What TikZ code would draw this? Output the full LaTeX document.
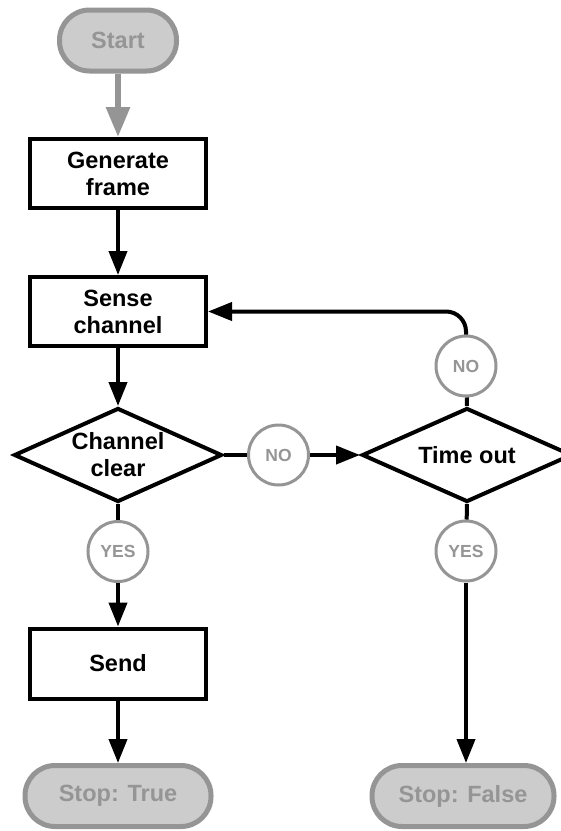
\documentclass[tikz,border=0pt]{standalone}
\usepackage{fontspec}
\setmainfont{Liberation Sans}
\usetikzlibrary{arrows.meta,shapes.geometric}
\definecolor{tgray}{HTML}{959595}
\definecolor{tfill}{HTML}{CCCCCC}
\begin{document}
\begin{tikzpicture}[x=1pt,y=-1pt,
  txt/.style={font=\bfseries\fontsize{23.5}{27}\selectfont, align=center},
  term/.style={txt, rectangle, rounded corners=30pt, draw=tgray, fill=tfill, text=tgray, line width=5pt, minimum height=61pt, inner sep=0pt},
  proc/.style={txt, rectangle, draw, line width=4pt, minimum width=176pt, minimum height=69pt, inner sep=0pt},
  dec/.style={diamond, draw, line width=4pt, minimum width=208pt, minimum height=94pt, inner sep=0pt},
  lbl/.style={circle, draw=tgray, line width=3pt, fill=white, text=tgray, font=\bfseries\fontsize{17.5}{19}\selectfont, minimum size=60pt, inner sep=0pt},
  ln/.style={line width=4pt},
  arr/.style={line width=4pt, -{Triangle[length=24pt,width=18pt]}},
  garr/.style={draw=tgray, line width=6pt, -{Triangle[length=30pt,width=23pt]}}]
\useasboundingbox (0,0) rectangle (561,831);
% nodes
\node[term, minimum width=117pt] (start) at (118,40.5) {Start};
\node[proc] (gen) at (118,173.5) {Generate\\frame};
\node[proc] (sense) at (118,311.5) {Sense\\channel};
\node[dec] (cc) at (118,455) {};
\node[txt] (cctxt) at (cc) {Channel\\clear};
\node[lbl] (no1) at (278.5,455) {NO};
\node[dec, minimum width=210pt] (to) at (467,455) {};
\node[txt] (totxt) at (to) {Time out};
\node[lbl] (no2) at (466,366) {NO};
\node[lbl] (yes1) at (118,551.5) {YES};
\node[lbl] (yes2) at (466,551) {YES};
\node[proc, minimum height=70pt] (send) at (118,663.5) {Send};
\node[term, minimum width=186pt] (stopT) at (118,796) {Stop: True};
\node[term, minimum width=182pt] (stopF) at (463,796) {Stop: False};
% connectors
\draw[garr] (start) -- (gen);
\draw[arr] (gen) -- (sense);
\draw[arr] (sense) -- (cc.north);
\draw[ln] (cc.south) -- (yes1);
\draw[arr] (yes1) -- (send);
\draw[arr] (send) -- (stopT);
\draw[ln] (cc.east) -- (no1);
\draw[arr] (no1) -- (to.west);
\draw[ln] (to.north) -- (no2);
\draw[arr, rounded corners=20pt] (no2.north) |- (sense.east);
\draw[ln] (to.south) -- (yes2);
\draw[arr] (yes2) -- (yes2 |- stopF.north);
\end{tikzpicture}
\end{document}
